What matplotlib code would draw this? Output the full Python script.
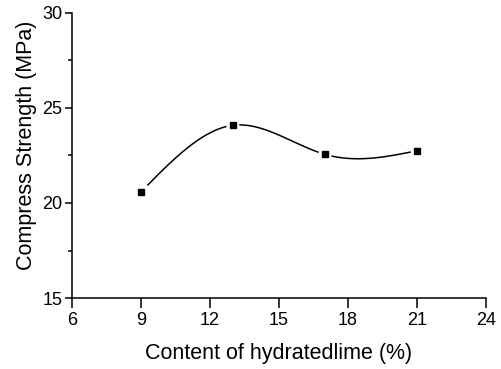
import numpy as np
import matplotlib.pyplot as plt

plt.rcParams['font.family'] = ['Liberation Sans', 'DejaVu Sans']

# hydrated lime content (%) vs compressive strength (MPa)
lime = np.array([9, 13, 17, 21])
strength = np.array([20.58, 24.09, 22.56, 22.75])


def natural_spline(x, y, xs):
    # natural cubic spline through the points
    n = len(x)
    h = np.diff(x)
    A = np.zeros((n, n))
    r = np.zeros(n)
    A[0, 0] = A[-1, -1] = 1
    for i in range(1, n - 1):
        A[i, i - 1] = h[i - 1]
        A[i, i] = 2 * (h[i - 1] + h[i])
        A[i, i + 1] = h[i]
        r[i] = 6 * ((y[i + 1] - y[i]) / h[i] - (y[i] - y[i - 1]) / h[i - 1])
    m = np.linalg.solve(A, r)
    out = np.empty_like(xs)
    for k, xv in enumerate(xs):
        i = min(max(np.searchsorted(x, xv) - 1, 0), n - 2)
        t0 = x[i + 1] - xv
        t1 = xv - x[i]
        out[k] = (m[i] * t0 ** 3 + m[i + 1] * t1 ** 3) / (6 * h[i]) \
            + (y[i] / h[i] - m[i] * h[i] / 6) * t0 \
            + (y[i + 1] / h[i] - m[i + 1] * h[i] / 6) * t1
    return out


xs = np.linspace(lime[0], lime[-1], 600)
ys = natural_spline(lime.astype(float), strength, xs)
# leave a small gap around each symbol
for xv in lime:
    ys[np.abs(xs - xv) < 0.3] = np.nan

fig = plt.figure(figsize=(5.01, 3.69), dpi=100)
ax = fig.add_axes([0.1437, 0.1924, 0.8263, 0.7724])
ax.plot(xs, ys, color='black', lw=1.1)
ax.plot(lime, strength, ls='none', marker='s', ms=5, color='black')

ax.set_xlim(6, 24)
ax.set_ylim(15, 30)
ax.set_xticks(np.arange(6, 25, 3))
ax.set_yticks([15, 20, 25, 30])
ax.set_yticks([17.5, 22.5, 27.5], minor=True)
ax.spines['top'].set_visible(False)
ax.spines['right'].set_visible(False)
for s in ['left', 'bottom']:
    ax.spines[s].set_linewidth(1.1)
ax.tick_params(axis='x', which='major', direction='out', length=7, width=1.1,
               labelsize=13, pad=3)
ax.tick_params(axis='y', which='major', direction='out', length=5, width=1.1,
               labelsize=13, pad=2)
ax.tick_params(axis='y', which='minor', direction='out', length=3, width=1.1)
ax.set_xlabel('Content of hydratedlime (%)', fontsize=15.5, labelpad=10)
ax.set_ylabel('Compress Strength (MPa)', fontsize=15.5, labelpad=4)
ax.yaxis.label.set_y(0.537)

fig.savefig('out.png', dpi=100)
